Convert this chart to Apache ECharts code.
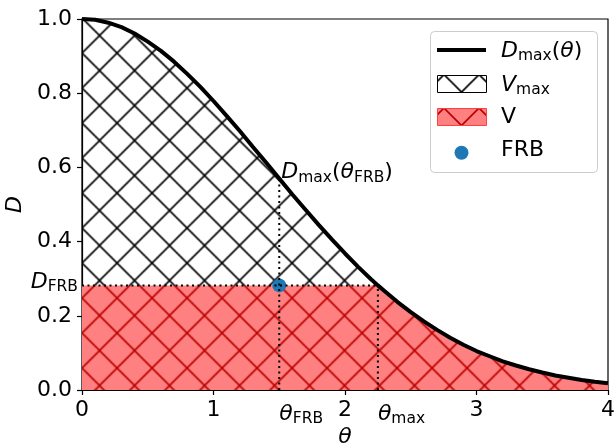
<!DOCTYPE html>
<html><head><meta charset="utf-8">
<script src="https://cdn.jsdelivr.net/npm/echarts@6/dist/echarts.min.js"></script>
<style>html,body{margin:0;padding:0;background:#fff}#c{width:614px;height:444px}</style>
</head><body><div id="c"></div>
<script>
// ---- data ----
const theta = [0,0.1,0.2,0.3,0.4,0.5,0.6,0.7,0.8,0.9,1.0,1.1,1.2,1.3,1.4,1.5,1.6,1.7,1.8,1.9,2.0,2.1,2.2,2.25,2.3,2.4,2.5,2.6,2.7,2.8,2.9,3.0,3.1,3.2,3.3,3.4,3.5,3.6,3.7,3.8,3.9,4.0];
const dmax  = [1.000,0.998,0.990,0.978,0.961,0.939,0.914,0.885,0.852,0.817,0.779,0.739,0.698,0.655,0.613,0.570,0.527,0.486,0.445,0.406,0.368,0.332,0.298,0.282,0.267,0.237,0.210,0.185,0.162,0.141,0.122,0.105,0.091,0.077,0.066,0.056,0.047,0.039,0.033,0.027,0.022,0.018];
const thetaFRB = 1.5;
const dFRB = 0.282;
const thetaMax = 2.25;
const xTicks = [0,1,2,3,4];
const yTicks = [0.0,0.2,0.4,0.6,0.8,1.0];

// ---- derived ----
const curve = theta.map((t,i)=>[t,dmax[i]]);
const vArea = theta.map((t,i)=>[t,Math.min(dFRB,dmax[i])]);
const dmaxFRB = dmax[theta.indexOf(thetaFRB)];

const FONT = 'DejaVu Sans';
function hatch(bg, color, lw){
  const s = 35, c = document.createElement('canvas');
  c.width = s; c.height = s;
  const g = c.getContext('2d');
  if (bg){ g.fillStyle = bg; g.fillRect(0,0,s,s); }
  g.strokeStyle = color; g.lineWidth = lw;
  g.beginPath();
  for (const k of [-s,0,s]) {
    g.moveTo(k,0); g.lineTo(k+s,s);
    g.moveTo(k+s,0); g.lineTo(k,s);
  }
  g.stroke();
  return c;
}
const blackTile = hatch(null,'#000',1.6);
const blackTileW = hatch('#fff','#000',1.6);
const redTile = hatch('#ff8080','#bb0000',1.6);
const pat = (img,x,y)=>({image:img, repeat:'repeat', x:x, y:y});

const rich = {
  it:{fontFamily:FONT,fontStyle:'italic',fontSize:22,lineHeight:26,verticalAlign:'middle',color:'#000'},
  n:{fontFamily:FONT,fontSize:22,lineHeight:26,verticalAlign:'middle',color:'#000'},
  sub:{fontFamily:FONT,fontSize:15.5,lineHeight:18,verticalAlign:'bottom',color:'#000'}
};

const dotted = {color:'#000', width:2, type:[2,3.5]};
const seg = (pts)=>({type:'line', data:pts, symbol:'none', lineStyle:dotted, z:7, silent:true, clip:false});
const lab = (fmt,pos,align)=>({show:true,formatter:fmt,position:pos,align:align,verticalAlign:'middle',color:'#000',opacity:1,rich:rich});

const chart = echarts.init(document.getElementById('c'), null, {renderer:'canvas'});
chart.setOption({
  animation:false,
  backgroundColor:'#fff',
  grid:{left:82,right:6,top:19,bottom:54,outerBoundsMode:'none',containLabel:false,show:true,borderColor:'#000',borderWidth:1.2,backgroundColor:'transparent'},
  xAxis:{type:'value',min:xTicks[0],max:xTicks[xTicks.length-1],interval:1,
    axisLine:{lineStyle:{color:'#000',width:1.2}},
    axisTick:{length:5,lineStyle:{color:'#000',width:1.2}},
    axisLabel:{color:'#000',fontSize:22,fontFamily:FONT,margin:9,showMinLabel:true,showMaxLabel:true},
    splitLine:{show:false},
    name:'θ',nameLocation:'middle',nameGap:36,
    nameTextStyle:{color:'#000',fontSize:22,fontStyle:'italic',fontFamily:FONT}},
  yAxis:{type:'value',min:yTicks[0],max:yTicks[yTicks.length-1],interval:0.2,
    axisLine:{show:true,lineStyle:{color:'#000',width:1.2}},
    axisTick:{show:true,length:5,lineStyle:{color:'#000',width:1.2}},
    axisLabel:{color:'#000',fontSize:22,fontFamily:FONT,margin:10,formatter:v=>v.toFixed(1)},
    splitLine:{show:false},
    name:'D',nameLocation:'middle',nameGap:54,
    nameTextStyle:{color:'#000',fontSize:22,fontStyle:'italic',fontFamily:FONT}},
  series:[
    {type:'line',data:curve,symbol:'none',lineStyle:{width:0},areaStyle:{color:pat(blackTile,29.5,0.5),opacity:1},z:1,silent:true},
    {type:'line',data:vArea,symbol:'none',lineStyle:{width:0},areaStyle:{color:pat(redTile,29.5,0.5),opacity:1},z:2,silent:true},
    {type:'line',data:curve,symbol:'none',lineStyle:{color:'#000',width:4},z:5,silent:true},
    {type:'scatter',data:[[thetaFRB,dFRB]],symbolSize:14,itemStyle:{color:'#1f77b4',opacity:1},z:6,silent:true},
    seg([[0,dFRB],[thetaMax,dFRB]]),
    seg([[thetaFRB,0],[thetaFRB,dmaxFRB]]),
    seg([[thetaMax,0],[thetaMax,dFRB]]),
    {type:'scatter',symbolSize:0,z:8,silent:true,clip:false,itemStyle:{opacity:1},
      data:[
        {value:[thetaFRB,dmaxFRB],label:lab('{it|D}{sub|max}{n|(}{it|θ}{sub|FRB}{n|)}',[2,-6],'left')},
        {value:[0,dFRB],label:lab('{it|D}{sub|FRB}',[-4,-3],'right')},
        {value:[thetaFRB,0],label:lab('{it|θ}{sub|FRB}',[0,24],'left')},
        {value:[thetaMax,0],label:lab('{it|θ}{sub|max}',[0,24],'left')}
      ]}
  ],
  graphic:[
    {type:'rect',shape:{x:430.5,y:31.5,width:167,height:141,r:4},style:{fill:'#fff',stroke:'#cccccc',lineWidth:1},z:100},
    {type:'line',shape:{x1:437,y1:50,x2:486,y2:50},style:{stroke:'#000',lineWidth:4},z:101},
    {type:'rect',shape:{x:437.5,y:75.5,width:49,height:17},style:{fill:pat(blackTileW,24,4.5),stroke:'#000',lineWidth:1},z:101},
    {type:'rect',shape:{x:437.5,y:108.5,width:49,height:17},style:{fill:pat(redTile,24,3),stroke:'#ff4040',lineWidth:1},z:101},
    {type:'circle',shape:{cx:461.5,cy:152.7,r:7},style:{fill:'#1f77b4'},z:101},
    {type:'text',style:{x:501,y:51,text:'{it|D}{sub|max}{n|(}{it|θ}{n|)}',rich:rich,verticalAlign:'middle'},z:101},
    {type:'text',style:{x:501,y:85,text:'{it|V}{sub|max}',rich:rich,verticalAlign:'middle'},z:101},
    {type:'text',style:{x:501,y:117,text:'{n|V}',rich:rich,verticalAlign:'middle'},z:101},
    {type:'text',style:{x:501,y:150,text:'{n|FRB}',rich:rich,verticalAlign:'middle'},z:101}
  ]
});
</script></body></html>
